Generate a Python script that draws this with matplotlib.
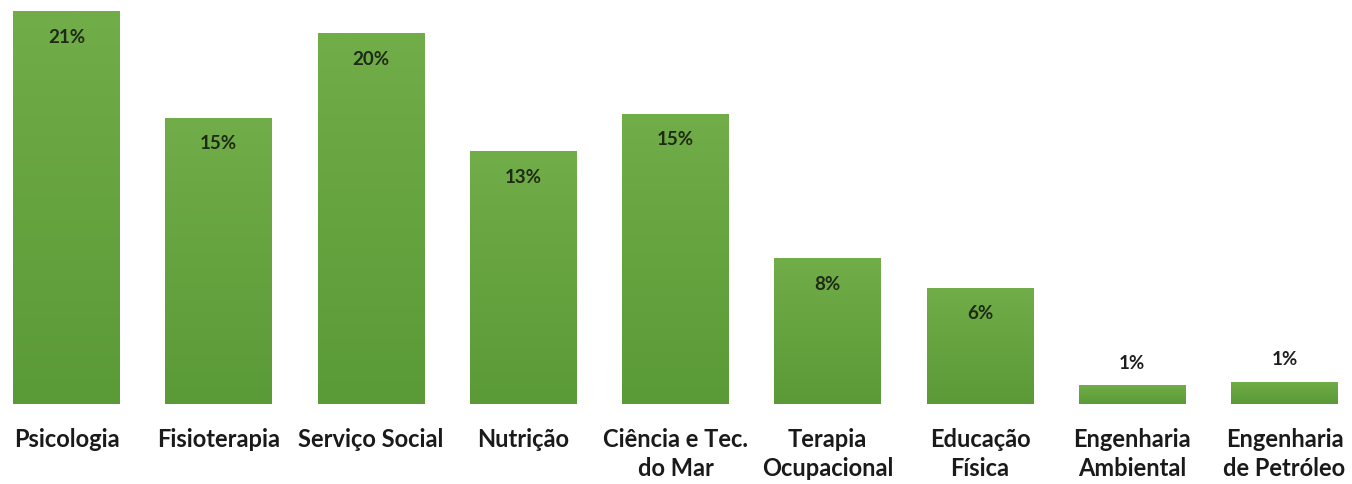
import matplotlib
matplotlib.use("Agg")
import matplotlib.pyplot as plt
import numpy as np
from matplotlib.colors import LinearSegmentedColormap

categories = ["Psicologia", "Fisioterapia", "Serviço Social", "Nutrição",
              "Ciência e Tec.\ndo Mar", "Terapia\nOcupacional", "Educação\nFísica",
              "Engenharia\nAmbiental", "Engenharia\nde Petróleo"]
values = [21.0, 15.3, 19.8, 13.5, 15.5, 7.8, 6.2, 1.0, 1.2]
value_labels = ["21%", "15%", "20%", "13%", "15%", "8%", "6%", "1%", "1%"]

plt.rcParams['font.family'] = ['Lato', 'DejaVu Sans']

fig = plt.figure(figsize=(13.52, 4.84), dpi=100)
ax = fig.add_axes([0, 80 / 484, 1, 404 / 484])

x = np.arange(len(categories))
bars = ax.bar(x, values, width=0.70, color="#66A444", edgecolor="none", zorder=2)

cmap = LinearSegmentedColormap.from_list("g", ["#5A9A37", "#71AD48"])
grad = np.linspace(0, 1, 256).reshape(-1, 1)
for b in bars:
    x0, y0 = b.get_x(), b.get_y()
    w, h = b.get_width(), b.get_height()
    im = ax.imshow(grad, extent=[x0, x0 + w, y0, y0 + h], origin="lower",
                   cmap=cmap, aspect="auto", zorder=3)
    im.set_clip_path(b)

ax.set_xlim(-66.5 / 152.25, (1352 - 66.5) / 152.25)
ax.set_ylim(0, 21.0 * 404 / 393)

for xi, v, lab in zip(x, values, value_labels):
    if v > 3:
        ax.annotate(lab, (xi, v), xytext=(0, -26), textcoords="offset pixels",
                    ha="center", va="center", fontsize=13.5, fontweight="bold",
                    color="#1E2A16", zorder=4)
    else:
        ax.annotate(lab, (xi, v), xytext=(0, 22), textcoords="offset pixels",
                    ha="center", va="center", fontsize=13.5, fontweight="bold",
                    color="#1E1E1E", zorder=4)

ax.set_xticks(x)
ax.set_xticklabels(categories, fontsize=17, fontweight="bold", color="#1A1A1A",
                   linespacing=1.35)
ax.tick_params(axis="x", length=0, pad=17)
ax.set_yticks([])
for s in ax.spines.values():
    s.set_visible(False)

fig.savefig("out.png", dpi=100, facecolor="white")
